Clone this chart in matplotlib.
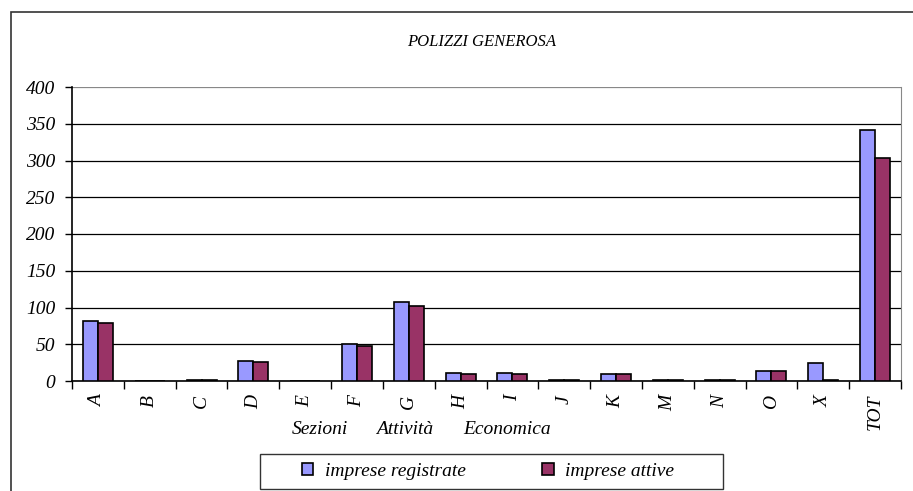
import numpy as np
import matplotlib.pyplot as plt
from matplotlib.patches import Rectangle

plt.rcParams['font.family'] = ['Liberation Serif', 'DejaVu Serif']
plt.rcParams['font.style'] = 'italic'

sezioni = ['A', 'B', 'C', 'D', 'E', 'F', 'G', 'H', 'I', 'J', 'K', 'M', 'N', 'O', 'X', 'TOT']
registrate = [81, 0, 1, 27, 0, 51, 108, 11, 11, 1, 10, 1, 2, 14, 24, 342]
attive = [79, 0, 1, 26, 0, 48, 102, 10, 10, 1, 9, 1, 2, 14, 1, 304]
yticks = [0, 50, 100, 150, 200, 250, 300, 350, 400]

fig = plt.figure(figsize=(9.13, 4.91), dpi=100)

# outer frame of the chart area
fig.patches.append(Rectangle((11 / 913, -0.01), 1.0, 1 - 12 / 491 + 0.01,
                             transform=fig.transFigure, fill=False,
                             edgecolor='#333333', linewidth=1.2))
# legend frame
fig.patches.append(Rectangle((260 / 913, 2 / 491), 463 / 913, 35 / 491,
                             transform=fig.transFigure, fill=False,
                             edgecolor='#333333', linewidth=1.0))

ax = fig.add_axes([72 / 913, 110 / 491, 829 / 913, 294 / 491])
x = np.arange(len(sezioni))
w = 0.29
b1 = ax.bar(x - w / 2, registrate, w, color='#9999ff', edgecolor='black', linewidth=1.2,
            zorder=3)
b2 = ax.bar(x + w / 2, attive, w, color='#993366', edgecolor='black', linewidth=1.2,
            zorder=3)

ax.set_xlim(-0.5, len(sezioni) - 0.5)
ax.set_ylim(0, 400)
ax.set_yticks(yticks)
ax.set_yticklabels([str(v) for v in yticks], fontsize=14)
ax.yaxis.grid(True, color='black', linewidth=0.9, zorder=0)
ax.get_ygridlines()[-1].set_color('#888888')
ax.tick_params(axis='y', length=5, width=1, pad=7)

ax.set_xticks(np.arange(len(sezioni) + 1) - 0.5, minor=False)
ax.set_xticklabels([])
ax.set_xticks(x, minor=True)
ax.set_xticklabels(sezioni, minor=True, rotation=90, fontsize=14)
ax.tick_params(axis='x', which='major', length=6, width=1)
ax.tick_params(axis='x', which='minor', length=0, pad=10)

ax.spines['top'].set_visible(False)
ax.spines['right'].set_color('#888888')
ax.spines['left'].set_linewidth(1.2)
ax.spines['bottom'].set_linewidth(1.2)

fig.text(482 / 913, 1 - 42 / 491, 'POLIZZI GENEROSA', ha='center', va='center', fontsize=12)
for word, cx in [('Sezioni', 319.5), ('Attività', 405), ('Economica', 507.5)]:
    fig.text(cx / 913, 1 - 430 / 491, word, ha='center', va='center', fontsize=14)

leg = fig.legend(handles=[b1, b2], labels=['imprese registrate', 'imprese attive'],
                 loc='center', bbox_to_anchor=(488 / 913, 1 - 471.5 / 491), ncol=2,
                 fontsize=14, frameon=False,
                 handlelength=0.6, handleheight=0.6, columnspacing=3.9,
                 borderpad=0.3, handletextpad=0.6)

fig.savefig('out.png', dpi=100)
